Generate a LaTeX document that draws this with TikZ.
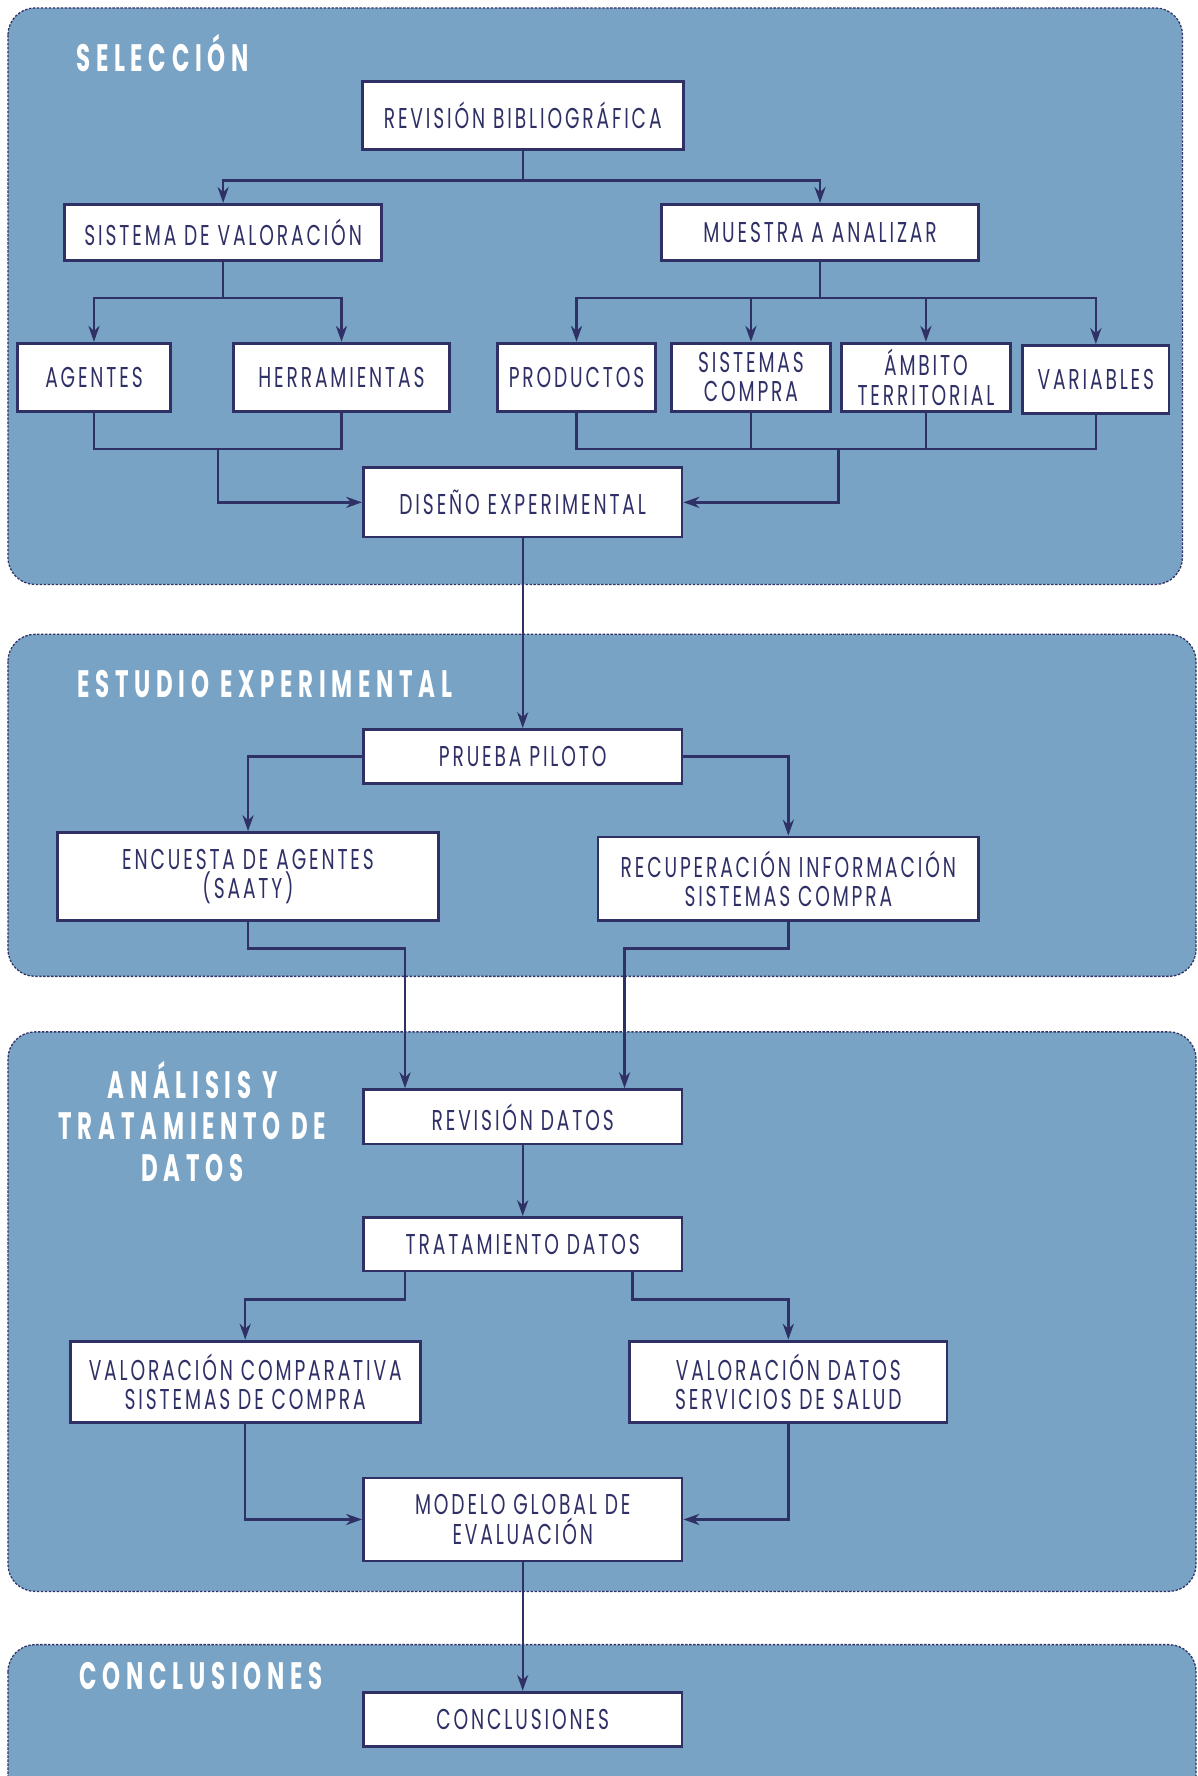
\documentclass[tikz,border=0pt]{standalone}
\usepackage{fontspec}
\setmainfont{Poppins}
\newfontfamily\boxfont[FakeStretch=0.65,LetterSpace=10]{Poppins}
\newfontfamily\stagefont[FakeStretch=0.6,LetterSpace=15]{Poppins}
\usetikzlibrary{positioning,calc,arrows.meta}

\definecolor{panelblue}{RGB}{121,163,197}
\definecolor{navy}{RGB}{47,48,102}

\tikzset{
  panel/.style={fill=panelblue, draw=navy, line width=0.8pt, dash pattern=on 1.5pt off 1pt, rounded corners=0.6cm},
  stage/.style={text=white, font=\stagefont\bfseries\fontsize{24}{26}\selectfont, align=center, inner sep=0pt},
  box/.style={draw=navy, fill=white, line width=1.8pt, text=navy, font=\boxfont\fontsize{18}{18.5}\selectfont, align=center, inner sep=0pt},
  link/.style={draw=navy, line width=1.5pt},
  arrow/.style={link, -{Stealth[length=10pt,width=7pt]}},
  thin arrow/.style={draw=navy, line width=1pt, -{Stealth[length=10pt,width=7pt]}},
}

\begin{document}
\begin{tikzpicture}[x=0.025cm, y=-0.025cm]
\clip (0,0) rectangle (1057,1568);
\useasboundingbox (0,0) rectangle (1057,1568);

% stage panels
\draw[panel] (7,7) rectangle (1044,516);
\draw[panel] (7,560) rectangle (1056,862);
\draw[panel] (7,911) rectangle (1056,1405);
\draw[panel] (7,1452) rectangle (1056,1620);

\node[stage, anchor=west] (tsel) at (67,47) {SELECCIÓN};
\node[stage, anchor=west] (test) at (68,604) {ESTUDIO EXPERIMENTAL};
\node[stage] (tana) at (170,990) {ANÁLISIS Y\\TRATAMIENTO DE\\DATOS};
\node[stage, anchor=west] (tcon) at (70,1480) {CONCLUSIONES};

% selection
\node[box, minimum width=7.08cm, minimum height=1.5cm] (revbib) at (461.5,102) {REVISIÓN BIBLIOGRÁFICA};
\node[box, minimum width=7cm, minimum height=1.23cm] (sisval) at (197,205) {SISTEMA DE VALORACIÓN};
\node[box, minimum width=7cm, minimum height=1.23cm] (muestra) at (724,205) {MUESTRA A ANALIZAR};
\node[box, minimum width=3.38cm, minimum height=1.5cm] (agentes) at (83,333) {AGENTES};
\node[box, minimum width=4.78cm, minimum height=1.5cm] (herr) at (301.5,333) {HERRAMIENTAS};
\node[box, minimum width=3.5cm, minimum height=1.5cm] (prod) at (509,333) {PRODUCTOS};
\node[box, minimum width=3.5cm, minimum height=1.5cm] (siscom) at (663,333) {SISTEMAS\\COMPRA};
\node[box, minimum width=3.73cm, minimum height=1.5cm] (ambito) at (817.5,333) {ÁMBITO\\TERRITORIAL};
\node[box, minimum width=3.23cm, minimum height=1.5cm] (variab) at (967.5,335) {VARIABLES};
\node[box, minimum width=7.03cm, minimum height=1.53cm] (diseno) at (461.5,443.5) {DISEÑO EXPERIMENTAL};

% experimental study
\node[box, minimum width=7.03cm, minimum height=1.2cm] (prueba) at (461.5,668) {PRUEBA PILOTO};
\node[box, minimum width=8.4cm, minimum height=1.95cm] (encuesta) at (219,774) {ENCUESTA DE AGENTES\\(SAATY)};
\node[box, minimum width=8.4cm, minimum height=1.85cm] (recup) at (696,776) {RECUPERACIÓN INFORMACIÓN\\SISTEMAS COMPRA};

% analysis
\node[box, minimum width=7.03cm, minimum height=1.2cm] (revdat) at (461.5,986) {REVISIÓN DATOS};
\node[box, minimum width=7.03cm, minimum height=1.18cm] (tratam) at (461.5,1098.5) {TRATAMIENTO DATOS};
\node[box, minimum width=7.73cm, minimum height=1.8cm] (valcomp) at (216.5,1220) {VALORACIÓN COMPARATIVA\\SISTEMAS DE COMPRA};
\node[box, minimum width=7cm, minimum height=1.8cm] (valdat) at (696,1220) {VALORACIÓN DATOS\\SERVICIOS DE SALUD};
\node[box, minimum width=7.03cm, minimum height=1.83cm] (modelo) at (461.5,1341.5) {MODELO GLOBAL DE\\EVALUACIÓN};

% conclusions
\node[box, minimum width=7.03cm, minimum height=1.2cm] (concl) at (461.5,1518) {CONCLUSIONES};

% connectors
\draw[arrow] (revbib.south) -- ++(0,26) -| (sisval.north);
\draw[arrow] (revbib.south) -- ++(0,26) -| (muestra.north);
\draw[arrow] (sisval.south) -- ++(0,32) -| (agentes.north);
\draw[arrow] (sisval.south) -- ++(0,32) -| (herr.north);
\foreach \n in {prod,siscom,ambito,variab}
  \draw[arrow] (muestra.south) -- ++(0,32) -| (\n.north);

\draw[link] (agentes.south) -- ++(0,32) -| (herr.south);
\draw[arrow] ($(agentes.south)!0.5!(herr.south)+(0,32)$) |- (diseno.west);
\draw[link] (prod.south) -- ++(0,32) -| (variab.south);
\draw[link] (siscom.south) -- ++(0,32);
\draw[link] (ambito.south) -- ++(0,32);
\draw[arrow] ($(siscom.south)!0.5!(ambito.south)+(0,32)$) |- (diseno.east);

\draw[thin arrow] (diseno) -- (prueba);
\draw[arrow] (prueba.west) -| (encuesta.north);
\draw[arrow] (prueba.east) -| (recup.north);
\draw[arrow] (encuesta.south) -- ++(0,23) -| ($(revdat.north west)+(38,0)$);
\draw[arrow] (recup.south) -- ++(0,23) -| ($(revdat.north east)+(-52,0)$);

\draw[arrow] (revdat) -- (tratam);
\draw[arrow] ($(tratam.south west)+(38,0)$) -- ++(0,24) -| (valcomp.north);
\draw[arrow] ($(tratam.south east)+(-45,0)$) -- ++(0,24) -| (valdat.north);
\draw[arrow] (valcomp.south) |- (modelo.west);
\draw[arrow] (valdat.south) |- (modelo.east);
\draw[thin arrow] (modelo) -- (concl);
\end{tikzpicture}
\end{document}
